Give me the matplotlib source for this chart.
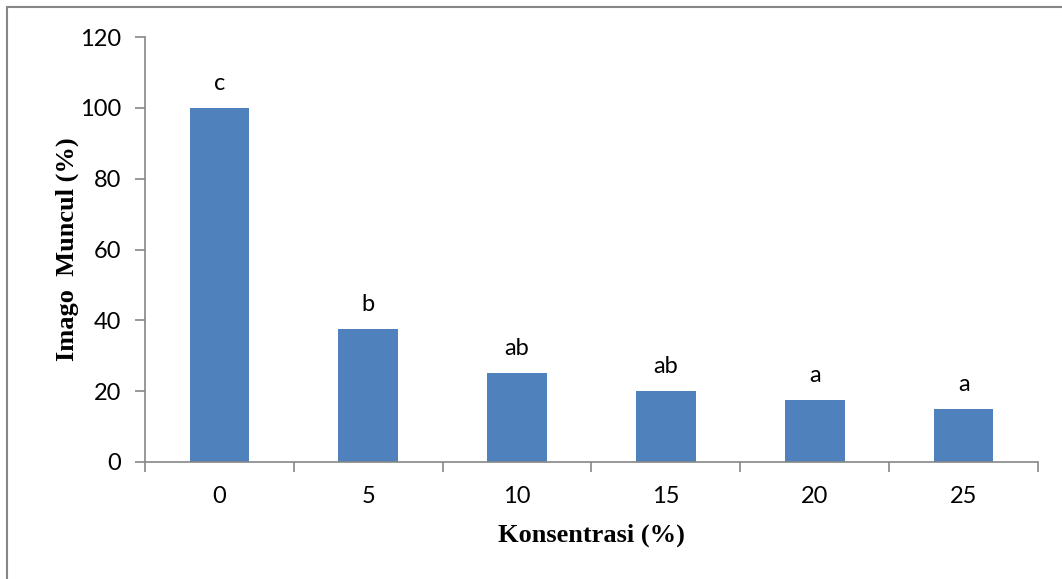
import matplotlib
matplotlib.use('Agg')
import numpy as np
from matplotlib import pyplot as plt
from matplotlib.patches import Rectangle

konsentrasi = ['0', '5', '10', '15', '20', '25']
imago = [100, 37.5, 25, 20, 17.5, 15]
huruf = ['c', 'b', 'ab', 'ab', 'a', 'a']

plt.rcParams['font.family'] = ['Lato', 'DejaVu Sans']

fig = plt.figure(figsize=(10.62, 5.79), dpi=100)
# chart border (only left and top visible in the picture)
fig.patches.append(Rectangle((7 / 1062, -0.1), 1.2, 1 - 7 / 579 + 0.1,
                             transform=fig.transFigure, fill=False,
                             edgecolor='#868686', linewidth=1.5))

ax = fig.add_axes([145 / 1062, 1 - 462 / 579, (1038 - 145) / 1062, (462 - 37) / 579])
x = np.arange(len(konsentrasi))
bars = ax.bar(x, imago, width=0.4, color='#4f81bd')

for b, h in zip(bars, huruf):
    ax.text(b.get_x() + b.get_width() / 2, b.get_height() + 4, h,
            ha='center', va='bottom', fontsize=17)

ax.set_xlim(-0.5, 5.5)
ax.set_ylim(0, 120)
ax.set_yticks(range(0, 121, 20))
ax.set_xticks(x)
ax.set_xticklabels(konsentrasi)
ax.set_xticks(np.arange(-0.5, 6, 1), minor=True)
ax.tick_params(axis='x', which='major', length=0, pad=17, labelsize=17)
ax.tick_params(axis='x', which='minor', length=7, color='#868686', width=1.2)
ax.tick_params(axis='y', length=7, color='#868686', width=1.2, pad=10, labelsize=17)

for s in ['top', 'right']:
    ax.spines[s].set_visible(False)
for s in ['left', 'bottom']:
    ax.spines[s].set_color('#868686')
    ax.spines[s].set_linewidth(1.2)

ax.set_xlabel('Konsentrasi (%)', family='Liberation Serif', fontweight='bold',
              fontsize=19, labelpad=12)
ax.set_ylabel('Imago  Muncul (%)', family='Liberation Serif', fontweight='bold',
              fontsize=19, labelpad=1)

plt.savefig('out.png', dpi=100)
